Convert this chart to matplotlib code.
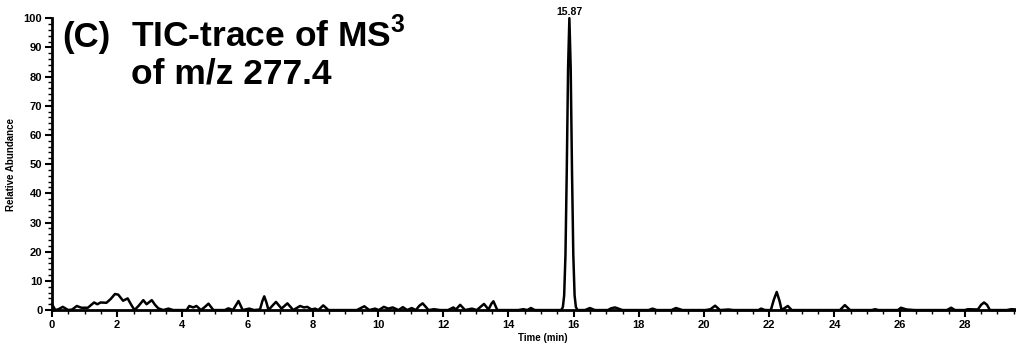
import matplotlib
matplotlib.use("Agg")
import matplotlib.pyplot as plt
from matplotlib.ticker import MultipleLocator

plt.rcParams['font.family'] = ['Liberation Sans', 'DejaVu Sans']
plt.rcParams['font.weight'] = 'bold'
plt.rcParams['mathtext.fontset'] = 'custom'
plt.rcParams['mathtext.rm'] = 'Liberation Sans'
plt.rcParams['mathtext.bf'] = 'Liberation Sans:bold'

# TIC trace (time in min, relative abundance in %)
time_min = [
    0.00, 0.10, 0.20, 0.33, 0.50, 0.62, 0.76, 0.90, 1.10, 1.29, 1.39, 1.49, 1.67, 1.80,
    1.93, 2.03, 2.18, 2.32, 2.42, 2.53, 2.66, 2.80, 2.90, 3.06, 3.16, 3.26, 3.41, 3.57,
    3.72, 4.13, 4.21, 4.33, 4.43, 4.57, 4.68, 4.80, 4.95, 5.30, 5.41, 5.55, 5.65, 5.72,
    5.85, 6.05, 6.20, 6.38, 6.45, 6.51, 6.58, 6.64, 6.76, 6.87, 7.04, 7.22, 7.40, 7.61,
    7.73, 7.83, 7.96, 8.07, 8.17, 8.32, 8.48, 9.35, 9.58, 9.73, 9.91, 10.02, 10.18, 10.31,
    10.45, 10.63, 10.76, 10.90, 11.03, 11.16, 11.27, 11.37, 11.47, 11.55, 11.72, 11.90,
    12.15, 12.31, 12.39, 12.52, 12.67, 12.88, 13.03, 13.25, 13.39, 13.48, 13.54, 13.66,
    14.30, 14.46, 14.58, 14.69, 14.81, 15.62, 15.67, 15.71, 15.75, 15.79, 15.83, 15.87,
    15.91, 15.95, 15.99, 16.03, 16.07, 16.12, 16.35, 16.50, 16.65, 17.05, 17.15, 17.27,
    17.40, 17.50, 18.30, 18.42, 18.55, 19.00, 19.14, 19.34, 20.05, 20.20, 20.34, 20.49,
    20.75, 20.90, 21.67, 21.75, 21.87, 22.05, 22.14, 22.23, 22.32, 22.38, 22.57, 22.69,
    24.17, 24.32, 24.48, 25.15, 25.25, 25.35, 25.95, 26.04, 26.21, 26.47, 27.45, 27.58,
    27.70, 28.00, 28.10, 28.40, 28.50, 28.59, 28.68, 28.77, 29.28, 29.43, 29.57,
]
rel_abundance = [
    2.0, 0.0, 0.3, 1.1, 0.0, 0.2, 1.4, 0.8, 0.8, 2.6, 2.0, 2.6, 2.5, 3.8,
    5.5, 5.3, 3.2, 4.0, 2.0, 0.0, 1.5, 3.4, 2.0, 3.4, 1.8, 0.6, 0.0, 0.5,
    0.0, 0.0, 1.4, 0.9, 1.4, 0.0, 1.0, 2.2, 0.0, 0.0, 0.6, 0.0, 1.8, 3.1,
    0.0, 0.5, 0.0, 0.2, 3.0, 4.7, 2.5, 0.0, 1.5, 2.8, 0.5, 2.3, 0.0, 1.4,
    0.9, 1.1, 0.2, 0.5, 0.0, 1.6, 0.0, 0.0, 1.3, 0.0, 0.5, 0.0, 1.1, 0.5,
    0.9, 0.0, 1.0, 0.0, 0.7, 0.0, 1.5, 2.3, 1.0, 0.0, 0.3, 0.0,
    0.0, 0.9, 0.2, 1.8, 0.0, 0.5, 0.0, 2.1, 0.2, 2.2, 3.0, 0.0,
    0.0, 0.3, 0.0, 0.7, 0.0, 0.0, 1.0, 5.0, 19.0, 48.0, 83.0, 100.0,
    83.0, 48.0, 19.0, 5.0, 1.0, 0.0, 0.0, 0.7, 0.0, 0.0, 0.6, 0.9,
    0.4, 0.0, 0.0, 0.5, 0.0, 0.0, 0.7, 0.0, 0.0, 0.3, 1.5, 0.0,
    0.2, 0.0, 0.0, 0.5, 0.0, 0.0, 3.5, 6.2, 3.0, 0.0, 1.4, 0.0,
    0.0, 1.7, 0.0, 0.0, 0.3, 0.0, 0.0, 0.8, 0.2, 0.0, 0.0, 0.8,
    0.0, 0.0, 0.3, 0.2, 1.8, 2.6, 1.8, 0.0, 0.0, 0.3, 0.2,
]
peak_rt = 15.87
peak_label = "15.87"

fig = plt.figure(figsize=(10.16, 3.43), dpi=100)
ax = fig.add_axes([0.0512, 0.096, 0.9488, 0.851])

ax.plot(time_min, rel_abundance, color='black', lw=1.8, clip_on=False)

ax.set_xlim(0, 29.57)
ax.set_ylim(0, 100)
ax.xaxis.set_major_locator(MultipleLocator(2))
ax.xaxis.set_minor_locator(MultipleLocator(0.5))
ax.yaxis.set_major_locator(MultipleLocator(10))
ax.yaxis.set_minor_locator(MultipleLocator(2))
ax.tick_params(axis='both', which='major', direction='out', length=5, width=1.5,
               labelsize=8, pad=2)
ax.tick_params(axis='both', which='minor', direction='out', length=3, width=1)

for s in ['top', 'right']:
    ax.spines[s].set_visible(False)
for s in ['left', 'bottom']:
    ax.spines[s].set_linewidth(2)

ax.set_xlabel("Time (min)", fontsize=7, fontweight='bold')
ax.xaxis.set_label_coords(0.5095, -0.078)
ax.set_ylabel("Relative Abundance", fontsize=7, fontweight='bold')
ax.yaxis.set_label_coords(-0.037, 0.5)

ax.annotate(peak_label, xy=(peak_rt, 100), xytext=(0, 1), textcoords='offset points',
            ha='center', va='bottom', fontsize=7.5, fontweight='bold',
            annotation_clip=False)

fig.text(0.061, 0.863, "(C)", fontsize=25, fontweight='bold', va='baseline')
fig.text(0.129, 0.863, r"TIC-trace of MS$^\mathbf{3}$", fontsize=25.5,
         fontweight='bold', va='baseline')
fig.text(0.129, 0.758, "of m/z 277.4", fontsize=25.5, fontweight='bold', va='baseline')

fig.savefig("out.png", dpi=100)
